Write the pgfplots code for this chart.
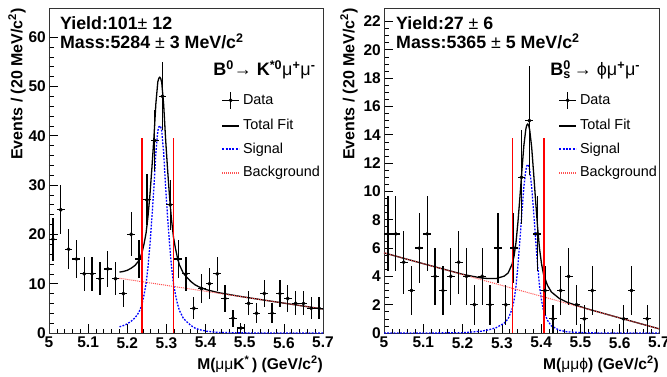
\documentclass[border=0pt]{standalone}
\usepackage{fontspec}
\setmainfont{Liberation Sans}
\usepackage{pgfplots}
\pgfplotsset{compat=1.18}
\definecolor{bgred}{RGB}{255,80,80}
\definecolor{cutred}{RGB}{255,0,0}
\definecolor{sigblue}{RGB}{0,0,255}
\pgfplotsset{
 rootaxis/.style={
  scale only axis, height=325pt, xmin=5, xmax=5.7, ymin=0,
  xtick={5,5.1,5.2,5.3,5.4,5.5,5.6,5.7},
  minor x tick num=4,
  tick align=inside, xtick pos=bottom, ytick pos=left,
  major tick length=9pt, minor tick length=4.5pt,
  every tick/.style={black, line width=0.6pt},
  axis line style={black!80, line width=0.9pt},
  /pgf/number format/assume math mode=true,
  ticklabel style={font=\bfseries\fontsize{15.5}{16}\selectfont},
  xticklabel style={inner sep=0pt, anchor=north, yshift=-4pt},
  yticklabel style={inner sep=0pt, anchor=east, xshift=-3pt},
  xlabel style={at={(axis description cs:1,0)}, anchor=base east, inner sep=0pt, yshift=-36pt, font=\bfseries\fontsize{15.6}{16}\selectfont},
  ylabel style={anchor=south east, inner sep=0pt, font=\bfseries\fontsize{16}{16}\selectfont},
  clip=false,
  legend style={draw=none, fill=none, anchor=north west, font=\fontsize{14.4}{16}\selectfont, row sep=9.5pt, column sep=3pt, nodes={inner sep=0pt, text height=11pt, text depth=3pt}},
  legend cell align=left,
 },
 datastyle/.style={forget plot, black, only marks, mark=*, mark size=1.8pt,
  error bars/.cd, x dir=both, x fixed=0.01, y dir=both, y explicit, error mark=none,
  error bar style={line width=1.3pt, black}},
 sigstyle/.style={forget plot, color=sigblue, line width=1.3pt, dash pattern=on 1.8pt off 1.4pt},
 totstyle/.style={forget plot, black, line width=1.3pt},
 bgstyle/.style={forget plot, color=bgred, line width=1pt, dash pattern=on 1pt off 1pt},
 cutstyle/.style={forget plot, color=cutred, line width=1.5pt, solid, ycomb, mark=none},
}
\newcommand{\legendentries}{%
  \addlegendimage{legend image code/.code={\draw[black,line width=1.2pt] (0pt,0pt)--(17pt,0pt) (8.5pt,-8.5pt)--(8.5pt,8.5pt); \fill[black] (8.5pt,0pt) circle (1.8pt);}}
  \addlegendentry{Data}
  \addlegendimage{legend image code/.code={\draw[black, line width=1.3pt] (0pt,0pt)--(17pt,0pt);}}
  \addlegendentry{Total Fit}
  \addlegendimage{legend image code/.code={\draw[sigblue, line width=1.8pt, dash pattern=on 2pt off 1.4pt] (0pt,0pt)--(17pt,0pt);}}
  \addlegendentry{Signal}
  \addlegendimage{legend image code/.code={\draw[bgred, line width=1.4pt, dash pattern=on 1pt off 1pt] (0pt,0pt)--(17pt,0pt);}}
  \addlegendentry{Background}
}
\begin{document}
\begin{tikzpicture}[x=1pt,y=1pt]
\useasboundingbox (0,0) rectangle (667,376);
% ---------------- left panel ----------------
\begin{axis}[rootaxis, at={(49pt,43pt)}, anchor=south west, width=274pt,
  ymax=65.9, ytick={0,10,20,30,40,50,60}, minor y tick num=4,
  xlabel={M({\mdseries μμ}K\textsuperscript{*}\,) (GeV/c\textsuperscript{2})},
  ylabel={Events / (20 MeV/c\textsuperscript{2})},
  ylabel style={at={(axis description cs:-0.084,1)}},
  legend style={at={(0.617,0.7508)}}]
\legendentries
\addplot[sigstyle] coordinates {
(5.180,1.25) (5.190,1.5) (5.200,1.85) (5.210,2.4) (5.220,3.1) (5.228,4.0) (5.233,4.8)
(5.238,6.0) (5.243,7.8) (5.248,10.0) (5.253,13.5) (5.258,18.0) (5.263,23.5) (5.268,29.5)
(5.273,36.5) (5.278,41.0) (5.2805,41.75) (5.283,42.0) (5.2855,41.75) (5.288,41.0) (5.293,36.5) (5.298,29.5)
(5.303,23.5) (5.308,18.0) (5.313,13.5) (5.318,10.0) (5.323,7.8) (5.328,6.0) (5.333,4.6)
(5.343,3.0) (5.353,2.2) (5.363,1.5) (5.373,1.0) (5.383,0.7) (5.403,0.35) (5.433,0.12)
(5.483,0.03) (5.533,0.01) (5.6,0) (5.7,0)};
\addplot[totstyle] coordinates {
(5.180,12.35) (5.190,12.48) (5.200,12.71) (5.210,13.14) (5.220,13.72) (5.228,14.52) (5.233,15.26)
(5.238,16.40) (5.243,18.14) (5.248,20.28) (5.253,23.72) (5.258,28.16) (5.263,33.60) (5.268,39.54)
(5.273,46.48) (5.278,50.92) (5.2805,51.64) (5.283,51.86) (5.2855,51.58) (5.288,50.80) (5.293,46.24) (5.298,39.18)
(5.303,33.12) (5.308,27.56) (5.313,23.00) (5.318,19.44) (5.323,17.18) (5.328,15.32) (5.333,13.86)
(5.343,12.14) (5.353,11.22) (5.363,10.40) (5.373,9.78) (5.383,9.36) (5.403,8.77) (5.433,8.18)
(5.483,7.49) (5.533,6.87) (5.6,6.06) (5.7,4.86)};
\addplot[bgstyle] coordinates {(5.18,11.1) (5.7,4.86)};
\addplot[datastyle] table[x=x, y=y, y error=e] {
x y e
5.01 19 4.359
5.03 25 5
5.05 17 4.123
5.07 15 3.873
5.09 12 3.464
5.11 12 3.464
5.13 11 3.317
5.15 13 3.606
5.17 11 3.317
5.19 8 2.828
5.21 20 4.472
5.23 15 3.873
5.25 27 5.196
5.27 39 6.245
5.29 48 6.928
5.31 26 5.099
5.33 15 3.873
5.35 12 3.464
5.37 5 2.236
5.39 9 3
5.41 10 3.162
5.43 12 3.464
5.45 7 2.646
5.47 3 1.732
5.49 1 1
5.51 6 2.449
5.53 4 2
5.55 8 2.828
5.57 4 2
5.59 8 2.828
5.61 7 2.646
5.63 6 2.449
5.65 6 2.449
5.67 5 2.236
5.69 5 2.236
};
\addplot[cutstyle] table {
x y
5.238 39.6
5.318 39.6
};
\node[anchor=base west, inner sep=0pt, font=\bfseries\fontsize{17.8}{18}\selectfont] at (rel axis cs:0.04,0.935) {Yield:101{\mdseries ±} 12};
\node[anchor=base west, inner sep=0pt, font=\bfseries\fontsize{17.8}{18}\selectfont] at (rel axis cs:0.04,0.874) {Mass:5284 {\mdseries ±} 3 MeV/c\textsuperscript{2}};
\node[anchor=base west, inner sep=0pt, font=\bfseries\fontsize{18}{18}\selectfont] at (rel axis cs:0.599,0.791) {B\textsuperscript{0}{\mdseries →} K\textsuperscript{*0}{\mdseries μ}\textsuperscript{+}{\mdseries μ}\textsuperscript{-}};
\end{axis}
% ---------------- right panel ----------------
\begin{axis}[rootaxis, at={(384pt,43pt)}, anchor=south west, width=275pt,
  ymax=22.95, ytick={0,2,4,6,8,10,12,14,16,18,20,22}, minor y tick num=3,
  xlabel={M({\mdseries μμϕ}) (GeV/c\textsuperscript{2})},
  ylabel={Events / (20 MeV/c\textsuperscript{2})},
  ylabel style={at={(axis description cs:-0.0945,1)}},
  legend style={at={(0.622,0.7508)}}]
\legendentries
\addplot[sigstyle] coordinates {
(5.0,0) (5.1,0) (5.2,0.02) (5.216,0.05) (5.246,0.12) (5.266,0.22) (5.286,0.38) (5.306,0.7)
(5.316,1.0) (5.326,1.7) (5.331,2.3) (5.336,3.3) (5.341,4.8) (5.346,6.6) (5.351,8.5)
(5.356,10.3) (5.361,11.5) (5.3635,11.8) (5.366,11.9) (5.3685,11.8) (5.371,11.5) (5.376,10.3) (5.381,8.5)
(5.386,6.6) (5.391,4.8) (5.396,3.3) (5.401,2.3) (5.406,1.6) (5.416,0.9) (5.426,0.5)
(5.446,0.2) (5.466,0.08) (5.516,0.01) (5.6,0) (5.7,0)};
\addplot[totstyle] coordinates {
(5.0,5.66) (5.1,4.894) (5.2,4.148) (5.216,4.055) (5.246,3.896) (5.266,3.842) (5.286,3.849) (5.306,4.016)
(5.316,4.239) (5.326,4.863) (5.331,5.424) (5.336,6.386) (5.341,7.848) (5.346,9.61) (5.351,11.471)
(5.356,13.233) (5.361,14.395) (5.3635,14.68) (5.366,14.756) (5.3685,14.64) (5.371,14.318) (5.376,13.08) (5.381,11.241)
(5.386,9.303) (5.391,7.465) (5.396,5.927) (5.401,4.888) (5.406,4.15) (5.416,3.374) (5.426,2.897)
(5.446,2.444) (5.466,2.17) (5.516,1.717) (5.6,1.064) (5.7,0.298)};
\addplot[bgstyle] coordinates {(5.0,5.66) (5.7,0.298)};
\addplot[datastyle] table[x=x, y=y, y error=e] {
x y e
5.01 7 2.646
5.03 7 2.646
5.05 5 2.236
5.07 3 1.732
5.09 6 2.449
5.11 7 2.646
5.13 4 2
5.15 3 1.732
5.17 4 2
5.19 5 2.236
5.21 4 2
5.23 2 1.414
5.25 4 2
5.27 2 1.414
5.29 6 2.449
5.31 2 1.414
5.33 6 2.449
5.35 11 3.317
5.37 15 3.873
5.39 7 2.646
5.41 3 1.732
5.43 1 1
5.45 3 1.732
5.47 4 2
5.49 2 1.414
5.51 1 1
5.53 3 1.732
5.61 1 1
5.63 3 1.732
5.67 1 1
};
\addplot[cutstyle] table {
x y
5.327 13.8
5.407 13.8
};
\node[anchor=base west, inner sep=0pt, font=\bfseries\fontsize{17.8}{18}\selectfont] at (rel axis cs:0.0436,0.935) {Yield:27 {\mdseries ±} 6};
\node[anchor=base west, inner sep=0pt, font=\bfseries\fontsize{17.8}{18}\selectfont] at (rel axis cs:0.0436,0.874) {Mass:5365 {\mdseries ±} 5 MeV/c\textsuperscript{2}};
\node[anchor=base west, inner sep=0pt, font=\bfseries\fontsize{18}{18}\selectfont] at (rel axis cs:0.604,0.791) {B\rlap{\textsuperscript{0}}\textsubscript{s}\,{\mdseries →} {\mdseries ϕμ}\textsuperscript{+}{\mdseries μ}\textsuperscript{-}};
\end{axis}
\end{tikzpicture}
\end{document}
